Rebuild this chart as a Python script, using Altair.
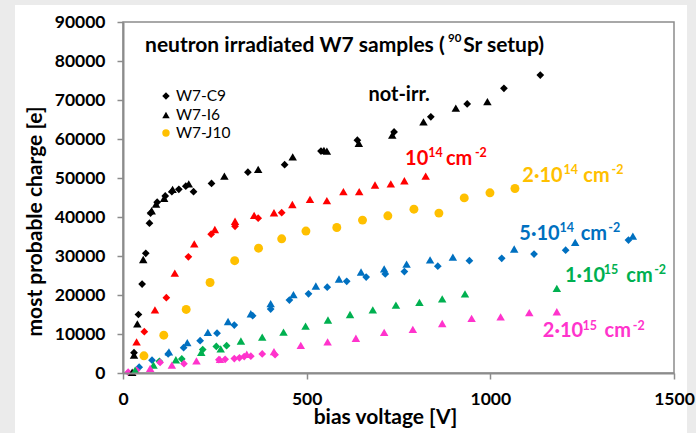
import altair as alt
import pandas as pd

# ---------------- data: bias voltage [V] / most probable charge [e] ----------------
# not irradiated
nirr_c9_v = [30, 42, 52, 62, 72, 75, 93, 115, 133, 152, 171, 192, 241, 340, 440, 539, 638, 738, 838, 937, 1037, 1136]
nirr_c9_q = [5200, 15000, 22800, 30700, 38400, 41000, 43800, 45400, 46500, 47100, 47900, 46500, 48600, 51500, 53400, 56900, 59700, 61800, 65700, 69000, 73000, 76400]
nirr_i6_v = [25, 30, 39, 55, 78, 90, 112, 135, 179, 276, 368, 462, 547, 555, 642, 733, 818, 906, 992]
nirr_i6_q = [200, 4600, 12600, 29100, 41600, 43300, 44800, 47100, 48500, 50500, 52200, 55400, 57100, 56900, 58900, 61000, 64400, 67900, 69600]
# 1e14
f1e14_c9_v = [58, 118, 178, 240, 305, 368, 432]
f1e14_c9_q = [10600, 19300, 29800, 35600, 37600, 39700, 41100]
f1e14_i6_v = [37, 87, 141, 194, 250, 305, 357, 411, 461, 509, 555, 600, 643, 686, 729, 766, 824]
f1e14_i6_q = [8000, 16200, 25600, 33100, 36800, 38900, 40400, 41100, 43200, 44500, 44200, 46500, 46500, 48200, 48500, 49300, 50500]
# 2e14
f2e14_j10_v = [57, 111, 172, 237, 304, 369, 432, 498, 582, 652, 721, 792, 860, 929, 999, 1067]
f2e14_j10_q = [4400, 9700, 16300, 23200, 28800, 32000, 34400, 36400, 37300, 39200, 40300, 42000, 41000, 44900, 46200, 47300]
# 5e14
f5e14_c9_v = [44, 79, 123, 165, 210, 256, 303, 353, 402, 453, 505, 556, 609, 662, 714, 766, 857, 943, 1031, 1119, 1205, 1376]
f5e14_c9_q = [1500, 3300, 4900, 6500, 8300, 10200, 12300, 14700, 16400, 18700, 20300, 22000, 23500, 24600, 25400, 26000, 27400, 28800, 29400, 30500, 31500, 34100]
f5e14_i6_v = [125, 175, 231, 286, 348, 402, 464, 525, 588, 648, 711, 772, 836, 898, 1065, 1231, 1388]
f5e14_i6_q = [5400, 7800, 10400, 13200, 15200, 17800, 20100, 22300, 24100, 25900, 26700, 27900, 29000, 29700, 31800, 33500, 35100]
# 1e15
f1e15_c9_v = [99, 160, 217, 254, 282]
f1e15_c9_q = [3000, 3600, 6000, 6800, 7000]
f1e15_i6_v = [33, 83, 144, 213, 266, 321, 379, 437, 497, 558, 618, 680, 743, 807, 869, 931, 1181]
f1e15_i6_q = [700, 2000, 3400, 5300, 6200, 8200, 9200, 10500, 12000, 13600, 15000, 16200, 17400, 18100, 19000, 20300, 21700]
# 2e15
f2e15_c9_v = [14, 37, 101, 166, 261, 278, 303, 317, 330, 348, 379, 414]
f2e15_c9_q = [200, 700, 2700, 2400, 3400, 3500, 3700, 3900, 4200, 4300, 4900, 4700]
f2e15_i6_v = [74, 133, 200, 264, 337, 411, 484, 557, 634, 711, 789, 869, 949, 1028, 1106, 1181]
f2e15_i6_q = [1200, 2000, 3100, 3500, 4800, 5500, 7100, 8000, 8900, 10400, 11200, 12700, 14000, 14400, 15500, 15700]

series_names = ["not-irr", "1e14", "2e14", "5e14", "1e15", "2e15"]
series_colors = ["#000000", "#FF0000", "#FFC000", "#0070C0", "#00B050", "#FF33CC"]
sample_names = ["W7-C9", "W7-I6", "W7-J10"]
sample_shapes = ["diamond", "triangle-up", "circle"]

# annotation pieces: normal text and superscripts, anchored (left/baseline) in data units
ann_main_text = ["not-irr.", "10", "cm", "2·10", "cm", "5·10", "cm", "1·10", "cm", "2·10", "cm"]
ann_main_series = ["not-irr", "1e14", "1e14", "2e14", "2e14", "5e14", "5e14", "1e15", "1e15", "2e15", "2e15"]
ann_main_v = [668, 768, 879, 1087, 1253, 1079, 1246, 1203, 1370, 1143, 1311]
ann_main_q = [69740, 53330, 53330, 49050, 49050, 34100, 34100, 23410, 23410, 9150, 9150]
ann_sup_text = ["14", "-2", "14", "-2", "14", "-2", "15", "-2", "15", "-2"]
ann_sup_series = ["1e14", "1e14", "2e14", "2e14", "5e14", "5e14", "1e15", "1e15", "2e15", "2e15"]
ann_sup_v = [831, 958, 1199, 1330, 1188, 1321, 1309, 1446, 1251, 1388]
ann_sup_q = [55380, 55380, 50900, 50900, 36030, 36030, 25380, 25380, 11150, 11150]

title_main_text = ["neutron irradiated W7 samples (", "Sr setup)"]
title_main_v = [60, 926]
title_sup_text = ["90"]
title_sup_v = [885]
title_q, title_sup_q = 82390, 84870

legend_colors = ["#000000", "#000000", "#FFC000"]
legend_sym_v, legend_txt_v = 117, 144
legend_q = [71030, 66150, 61540]

# ---------------- build table ----------------
rows = []
def add(vs, qs, ser, smp):
    for v, q in zip(vs, qs):
        rows.append({"V": v, "Q": q, "series": ser, "sample": smp})

add(nirr_c9_v, nirr_c9_q, "not-irr", "W7-C9")
add(nirr_i6_v, nirr_i6_q, "not-irr", "W7-I6")
add(f1e14_c9_v, f1e14_c9_q, "1e14", "W7-C9")
add(f1e14_i6_v, f1e14_i6_q, "1e14", "W7-I6")
add(f2e14_j10_v, f2e14_j10_q, "2e14", "W7-J10")
add(f5e14_c9_v, f5e14_c9_q, "5e14", "W7-C9")
add(f5e14_i6_v, f5e14_i6_q, "5e14", "W7-I6")
add(f1e15_c9_v, f1e15_c9_q, "1e15", "W7-C9")
add(f1e15_i6_v, f1e15_i6_q, "1e15", "W7-I6")
add(f2e15_c9_v, f2e15_c9_q, "2e15", "W7-C9")
add(f2e15_i6_v, f2e15_i6_q, "2e15", "W7-I6")
df = pd.DataFrame(rows)

ann_main_df = pd.DataFrame({"text": ann_main_text, "V": ann_main_v, "Q": ann_main_q, "series": ann_main_series})
ann_sup_df = pd.DataFrame({"text": ann_sup_text, "V": ann_sup_v, "Q": ann_sup_q, "series": ann_sup_series})
title_main_df = pd.DataFrame({"text": title_main_text, "V": title_main_v, "Q": [title_q] * 2})
title_sup_df = pd.DataFrame({"text": title_sup_text, "V": title_sup_v, "Q": [title_sup_q]})
leg_sym_df = pd.DataFrame({"name": sample_names, "Q": legend_q, "color": legend_colors, "shape": sample_shapes,
                           "V": [legend_sym_v] * 3})
leg_txt_df = pd.DataFrame({"name": sample_names, "Q": legend_q, "V": [legend_txt_v] * 3})
one = pd.DataFrame({"a": [0]})

FONT = "Lato"
AX = "#8C8C8C"
W, H = 551, 351

xscale = alt.Scale(domain=[0, 1500], nice=False)
yscale = alt.Scale(domain=[0, 90000], nice=False)

x_enc = alt.X("V:Q", scale=xscale, axis=alt.Axis(
    values=[0, 500, 1000, 1500], format="d", title="bias voltage [V]", grid=False,
    labelFont=FONT, labelFontSize=17.5, labelFontWeight="bold", labelColor="black",
    labelPadding=11, labelFlush=False, labelOverlap=False,
    titleFont=FONT, titleFontSize=21, titleFontWeight="bold", titleColor="black",
    titleX=262, titleY=50, titleBaseline="alphabetic", titleAlign="center",
    tickSize=6, tickColor=AX, tickWidth=1.5, domainColor=AX, domainWidth=2, zindex=1))
y_enc = alt.Y("Q:Q", scale=yscale, axis=alt.Axis(
    values=list(range(0, 90001, 10000)), format="d", title="most probable charge [e]", grid=False,
    labelFont=FONT, labelFontSize=17.5, labelFontWeight="bold", labelColor="black", labelPadding=12,
    labelOverlap=False,
    titleFont=FONT, titleFontSize=21, titleFontWeight="bold", titleColor="black",
    titleAngle=270, titleX=-88, titleY=199, titleBaseline="middle", titleAlign="center",
    tickSize=6, tickColor=AX, tickWidth=1.5, domainColor=AX, domainWidth=2, zindex=1))

color_scale = alt.Scale(domain=series_names, range=series_colors)
shape_scale = alt.Scale(domain=sample_names, range=sample_shapes)

panel = alt.Chart(one).mark_rect(fill="white").encode(
    x=alt.value(-108), x2=alt.value(564), y=alt.value(-17), y2=alt.value(425))
frame = alt.Chart(one).mark_rect(fill=None, stroke=AX, strokeWidth=1.5).encode(
    x=alt.value(0), x2=alt.value(W), y=alt.value(0), y2=alt.value(H))

def pts(sample, size):
    return alt.Chart(df[df["sample"] == sample]).mark_point(filled=True, opacity=1, size=size).encode(
        x=x_enc, y=y_enc,
        color=alt.Color("series:N", scale=color_scale, legend=None),
        shape=alt.Shape("sample:N", scale=shape_scale, legend=None))

p_c9 = pts("W7-C9", 60)
p_i6 = pts("W7-I6", 72)
p_j10 = pts("W7-J10", 80)

def texts(data, size, colored):
    m = alt.Chart(data).mark_text(font=FONT, fontSize=size, fontWeight="bold", align="left",
                                  baseline="alphabetic", color="black")
    enc = dict(x=x_enc, y=y_enc, text="text:N")
    if colored:
        enc["color"] = alt.Color("series:N", scale=color_scale, legend=None)
    return m.encode(**enc)

ann_main = texts(ann_main_df, 20, True)
ann_sup = texts(ann_sup_df, 12.5, True)
ttl_main = texts(title_main_df, 21, False)
ttl_sup = texts(title_sup_df, 11.5, False)

leg_sym = alt.Chart(leg_sym_df).mark_point(filled=True, opacity=1, size=55).encode(
    x=x_enc, y=y_enc, color=alt.Color("color:N", scale=None), shape=alt.Shape("shape:N", scale=None))
leg_txt = alt.Chart(leg_txt_df).mark_text(font=FONT, fontSize=15.5, align="left", baseline="middle", color="black").encode(
    x=x_enc, y=y_enc, text="name:N")

chart = alt.layer(panel, frame, p_c9, p_i6, p_j10, ann_main, ann_sup, ttl_main, ttl_sup, leg_sym, leg_txt).properties(
    width=W, height=H,
    padding={"left": 123, "top": 22, "right": 22, "bottom": 60},
    autosize=alt.AutoSizeParams(type="none"),
    background="#EBEBEB",
).configure_view(stroke=None)

chart.save("out.html", embed_options={"renderer": "svg", "actions": False})
